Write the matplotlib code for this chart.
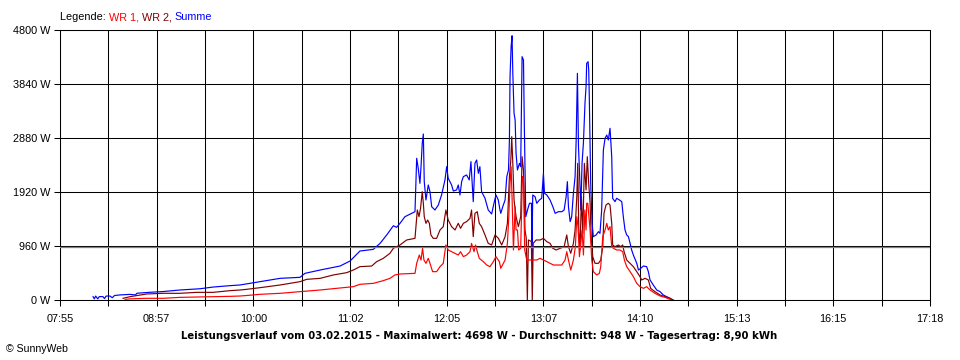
import matplotlib
matplotlib.use("Agg")
import matplotlib.pyplot as plt
import numpy as np

plt.rcParams['font.family'] = ['Liberation Sans', 'DejaVu Sans']

# time axis: minutes after midnight, labels as printed under the chart
t_start = 475.2
t_step = 31.275          # one grid column
x_labels = ["07:55", "08:57", "10:00", "11:02", "12:05",
            "13:07", "14:10", "15:13", "16:15", "17:18"]
y_ticks = [0, 960, 1920, 2880, 3840, 4800]
avg_w = 948

# Summe (blue), (minute, W)
summe = [(496.6, 60), (497.4, 20), (498.3, 70), (499.6, 20), (500.6, 60), (503.0, 60),
         (504.0, 25), (505.0, 70), (507.6, 70), (509.0, 40), (510.5, 80), (514.0, 90),
         (520.5, 100), (524.0, 90), (525.0, 120), (533.4, 137), (541.9, 150), (552.9, 178),
         (565.8, 200), (574.2, 230), (585.2, 255), (591.7, 267), (604.6, 326), (617.6, 385),
         (630.5, 403), (633.7, 474), (643.5, 533), (656.4, 604), (662.9, 693), (669.3, 871),
         (677.9, 900), (682.3, 1007), (686.6, 1156), (690.9, 1320), (693.0, 1292), (695.2, 1363),
         (698.4, 1481), (701.6, 1524), (704.9, 1570), (706.0, 2519), (707.0, 2341), (708.1, 2074),
         (708.8, 2370), (709.6, 2785), (710.3, 2951), (710.9, 2104), (712.0, 1778), (713.5, 2045),
         (714.6, 1926), (715.7, 1659), (717.8, 1600), (720.0, 1689), (722.1, 1867), (724.3, 2134),
         (725.4, 2370), (726.4, 2163), (728.6, 2045), (729.7, 1938), (731.8, 1956), (732.9, 2045),
         (734.0, 1867), (735.1, 2104), (736.2, 2193), (738.3, 2223), (740.0, 2134), (741.1, 2460),
         (742.6, 1748), (743.7, 2430), (744.8, 2489), (745.9, 2252), (746.9, 2370), (748.0, 1926),
         (750.2, 1808), (752.3, 1600), (754.5, 1529), (756.0, 1719), (757.3, 1867), (758.8, 1778),
         (759.9, 1600), (760.4, 1541), (761.7, 1659), (763.2, 1778), (764.3, 2193), (765.4, 2311),
         (766.0, 2844), (766.4, 3970), (767.1, 4503), (767.7, 4698), (768.2, 4030), (769.0, 3319),
         (769.7, 3200), (770.3, 2607), (771.2, 2311), (772.5, 2430), (773.3, 2370), (774.2, 4326),
         (775.1, 4267), (775.7, 3022), (776.6, 1481), (777.7, 1600), (779.0, 1720), (780.3, 1720),
         (780.5, 711), (781.1, 1867), (782.6, 1837), (783.7, 1719), (785.4, 1778), (786.9, 1808),
         (788.0, 2252), (788.7, 1896), (790.2, 1867), (792.3, 1778), (794.1, 1659), (795.6, 1541),
         (797.7, 1570), (799.9, 1570), (801.4, 1600), (802.7, 1837), (803.5, 2104), (804.2, 1659),
         (805.3, 1393), (806.3, 1481), (807.4, 1896), (808.5, 2193), (809.2, 2844), (810.0, 4030),
         (810.7, 2726), (811.3, 2311), (812.2, 1600), (813.0, 2430), (813.9, 2800), (814.9, 3497),
         (815.6, 3800), (816.0, 4207), (816.9, 4237), (817.3, 4100), (817.7, 3600), (818.6, 2074),
         (819.5, 1363), (820.3, 1126), (822.1, 1156), (823.6, 1215), (824.6, 1185), (825.7, 1600),
         (826.8, 2667), (827.9, 2874), (829.0, 2933), (830.0, 2844), (831.1, 3052), (832.2, 2548),
         (832.8, 1808), (834.3, 1748), (835.4, 1808), (837.2, 1778), (838.7, 1748), (839.7, 1481),
         (840.8, 1245), (841.9, 1156), (843.0, 1126), (844.1, 1007), (845.1, 889), (846.2, 800),
         (848.4, 652), (849.5, 533), (851.0, 563), (852.7, 604), (854.8, 593), (855.9, 504),
         (857.0, 356), (859.1, 267), (861.3, 178), (863.5, 148), (865.6, 89), (867.8, 59),
         (869.9, 30), (872.1, 0)]

# WR 2 (dark red)
wr2 = [(516.0, 30), (520.5, 59), (531.3, 107), (541.9, 119), (552.9, 119), (563.7, 136),
       (574.2, 136), (585.2, 166), (591.7, 178), (596.0, 190), (604.6, 219), (617.6, 267),
       (630.5, 326), (634.8, 367), (643.5, 385), (652.1, 445), (660.7, 486), (665.0, 533),
       (669.3, 593), (676.9, 604), (680.1, 682), (684.4, 741), (688.7, 830), (690.9, 919),
       (695.2, 978), (699.5, 1067), (704.9, 1096), (706.4, 1600), (707.5, 1481), (708.5, 1630),
       (709.6, 1926), (710.3, 1719), (710.9, 1481), (712.0, 1363), (713.1, 1422), (714.2, 1363),
       (715.2, 1156), (716.7, 1096), (718.9, 1096), (721.1, 1245), (723.2, 1304), (724.9, 1600),
       (726.4, 1422), (728.6, 1304), (730.8, 1245), (732.9, 1363), (734.4, 1274), (736.2, 1363),
       (738.3, 1393), (740.5, 1452), (741.5, 1600), (742.6, 1126), (743.7, 1541), (745.2, 1570),
       (746.5, 1363), (748.0, 1304), (750.2, 1156), (752.3, 1007), (754.5, 978), (756.7, 1156),
       (758.9, 1096), (761.0, 978), (763.2, 1126), (764.7, 1363), (766.0, 2193), (766.9, 2489),
       (767.5, 2904), (768.2, 2430), (769.0, 1778), (770.3, 1481), (771.8, 1304), (773.3, 1481),
       (774.2, 2548), (775.1, 2311), (776.1, 1245), (776.9, 1100), (777.6, 0), (778.3, 1067),
       (780.2, 1040), (780.8, 0), (781.4, 1007), (783.3, 1067), (785.9, 1067), (788.0, 1096),
       (790.2, 1037), (792.3, 1007), (794.1, 919), (796.2, 889), (798.8, 919), (801.4, 948),
       (803.1, 1156), (804.2, 948), (805.7, 830), (807.4, 1007), (808.5, 1245), (809.6, 1837),
       (810.2, 2430), (810.9, 1245), (811.7, 900), (812.6, 1837), (813.5, 1185), (814.5, 2430),
       (815.6, 1956), (816.4, 2548), (817.3, 2074), (818.2, 1719), (819.0, 1067), (819.9, 770),
       (821.4, 652), (823.6, 652), (825.1, 711), (826.4, 948), (827.2, 1541), (828.5, 1689),
       (830.0, 1719), (831.1, 1689), (832.2, 1363), (832.8, 978), (834.3, 948), (836.5, 978),
       (838.0, 948), (839.3, 978), (840.2, 859), (841.9, 711), (844.1, 652), (846.2, 593),
       (848.4, 504), (850.5, 415), (851.6, 356), (853.8, 385), (855.9, 356), (857.4, 207),
       (860.2, 148), (863.5, 89), (866.7, 59), (869.9, 30), (871.5, 0)]

# WR 1 (red)
wr1 = [(517.3, 12), (520.5, 20), (531.3, 30), (541.9, 30), (552.9, 47), (574.2, 59),
       (585.2, 65), (591.7, 71), (596.0, 80), (604.6, 101), (617.6, 119), (630.5, 148),
       (643.5, 178), (654.3, 207), (665.0, 237), (669.3, 279), (677.9, 296), (684.4, 344),
       (688.7, 385), (691.9, 445), (695.2, 462), (704.9, 474), (706.0, 652), (707.7, 800),
       (708.8, 711), (709.8, 919), (710.7, 711), (712.0, 652), (713.5, 741), (714.6, 652),
       (716.3, 504), (718.9, 504), (721.1, 593), (723.2, 652), (724.9, 978), (726.4, 889),
       (728.6, 859), (730.8, 830), (732.9, 800), (734.4, 859), (736.2, 770), (738.3, 800),
       (740.5, 859), (741.5, 1007), (743.1, 859), (744.1, 978), (745.2, 859), (746.5, 741),
       (749.1, 682), (751.3, 622), (753.4, 593), (755.6, 682), (757.3, 770), (759.5, 682),
       (760.4, 563), (763.2, 711), (764.7, 1007), (765.6, 1481), (766.4, 2074), (767.1, 2370),
       (767.7, 1837), (768.6, 889), (769.7, 1659), (770.3, 1245), (771.2, 1245), (772.0, 889),
       (773.3, 919), (774.4, 2193), (775.1, 2134), (775.9, 889), (777.2, 711), (779.0, 711),
       (781.1, 711), (783.7, 711), (785.9, 741), (788.0, 711), (790.2, 682), (792.3, 652),
       (794.5, 622), (796.6, 622), (799.9, 622), (802.0, 711), (803.1, 859), (804.2, 711),
       (805.7, 533), (807.4, 711), (808.7, 948), (809.6, 1481), (810.4, 1304), (811.3, 770),
       (812.2, 1007), (813.0, 1245), (813.9, 800), (814.8, 1600), (815.6, 1245), (816.0, 1719),
       (816.7, 1719), (817.1, 1600), (818.2, 1245), (819.3, 711), (820.3, 504), (822.5, 445),
       (824.2, 474), (825.1, 593), (826.4, 1126), (827.9, 1245), (829.0, 1363), (830.0, 1245),
       (831.1, 1304), (832.2, 948), (833.3, 919), (835.4, 889), (837.6, 889), (839.3, 859),
       (840.4, 711), (841.9, 593), (844.1, 504), (846.2, 415), (848.4, 296), (850.5, 237),
       (852.7, 207), (854.8, 237), (857.0, 178), (860.2, 119), (863.5, 71), (866.7, 47),
       (869.9, 12), (870.5, 0)]

fig = plt.figure(figsize=(9.6, 3.6), dpi=100)
ax = fig.add_axes([60 / 960, 60 / 360, 870 / 960, 270 / 360])

n_cols = 2 * (len(x_labels) - 1)
grid_x = [t_start + i * t_step for i in range(n_cols + 1)]

ax.set_xlim(grid_x[0], grid_x[-1])
ax.set_ylim(0, 4800)

# grid
for gx in grid_x:
    ax.axvline(gx, color='black', lw=0.75, zorder=1)
for gy in y_ticks:
    ax.axhline(gy, color='black', lw=0.75, zorder=1)

for series, col in [(summe, '#0000FF'), (wr2, '#800000'), (wr1, '#FF0000')]:
    t, w = zip(*series)
    ax.plot(t, w, color=col, lw=0.85, zorder=3)

# average line (grey), just under the 960 W grid line
ax.axhline(avg_w, color='#808080', lw=0.9, zorder=4)

ax.set_xticks(grid_x)
ax.set_xticklabels([x_labels[i // 2] if i % 2 == 0 else "" for i in range(n_cols + 1)])
ax.set_yticks(y_ticks)
ax.set_yticklabels([f"{v} W" for v in y_ticks])
ax.tick_params(axis='x', length=4, width=0.75, pad=6, labelsize=7.8)
ax.tick_params(axis='y', length=4.3, width=0.75, pad=2.5, labelsize=7.8)
for s in ax.spines.values():
    s.set_linewidth(0.75)

# legend line at the top, coloured words
renderer = fig.canvas.get_renderer()
x = 60 / 960
for word, col in [("Legende: ", 'black'), ("WR 1, ", '#FF0000'),
                  ("WR 2, ", '#800000'), ("Summe", '#0000FF')]:
    txt = fig.text(x, 1 - 20.5 / 360, word, color=col, fontsize=7.8, va='baseline')
    bb = txt.get_window_extent(renderer)
    x = bb.x1 / 960

fig.text(0.499, 1 - 336 / 360,
         "Leistungsverlauf vom 03.02.2015 - Maximalwert: 4698 W - Durchschnitt: 948 W - Tagesertrag: 8,90 kWh",
         ha='center', va='center', fontsize=7.3, fontweight='bold', family='DejaVu Sans')
fig.text(6 / 960, 1 - 349 / 360, "© SunnyWeb", ha='left', va='center', fontsize=7.6)

fig.savefig("out.png", dpi=100)
